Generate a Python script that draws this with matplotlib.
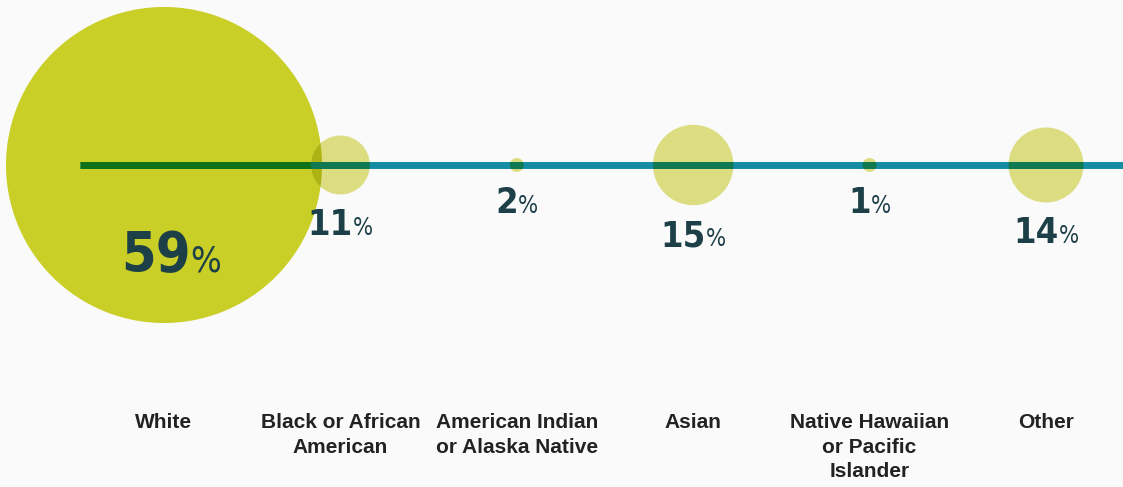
import matplotlib
matplotlib.use("Agg")
import matplotlib.pyplot as plt
from matplotlib.patches import Circle
from matplotlib.offsetbox import TextArea, HPacker, AnnotationBbox

categories = ["White", "Black or African\nAmerican", "American Indian\nor Alaska Native",
              "Asian", "Native Hawaiian\nor Pacific\nIslander", "Other"]
values = [59, 11, 2, 15, 1, 14]

BG = "#fafafa"
BIG = "#c9cf26"
SMALL = "#dcdc80"
LINE = "#148ca4"
TEXT = "#1c3f48"

W, H, DPI = 1123, 487, 100
PX = 176.4          # pixels per category step
X0, Y0 = 164, 165   # pixel position of first bubble centre

NUM_FAMILY = ["DejaVu Sans Condensed", "Liberation Sans Narrow", "DejaVu Sans"]


def px(n):
    return n / PX


def mult(c1, c2):
    a = matplotlib.colors.to_rgb(c1)
    b = matplotlib.colors.to_rgb(c2)
    return tuple(x * y for x, y in zip(a, b))


fig = plt.figure(figsize=(W / DPI, H / DPI), dpi=DPI, facecolor=BG)
ax = fig.add_axes([0, 0, 1, 1])
ax.set_facecolor(BG)
ax.set_xlim(px(-X0), px(W - X0))
ax.set_ylim(px(-(H - Y0)), px(Y0))
ax.set_aspect("equal")
ax.axis("off")

k = px(158) / max(values)
radii = [max(v * k, px(7)) for v in values]

# bubbles
circles = []
for i, (v, r) in enumerate(zip(values, radii)):
    col = BIG if i == 0 else SMALL
    c = Circle((i, 0), r, facecolor=col, edgecolor="none", zorder=2)
    ax.add_patch(c)
    circles.append(c)

# overlap of small bubbles with the big one (multiply look)
for i in range(1, len(values)):
    ov = Circle((0, 0), radii[0], facecolor=mult(BIG, SMALL), edgecolor="none", zorder=3)
    ax.add_patch(ov)
    ov.set_clip_path(circles[i])

# axis line, multiplied where it crosses bubbles
x_start, x_end = px(80 - X0), px(W - X0)
ax.plot([x_start, x_end], [0, 0], color=LINE, lw=5, solid_capstyle="butt", zorder=4)
for i, c in enumerate(circles):
    base = BIG if i == 0 else SMALL
    ln, = ax.plot([x_start, x_end], [0, 0], color=mult(LINE, base), lw=5,
                  solid_capstyle="butt", zorder=5)
    ln.set_clip_path(c)

# percentage labels
for i, (v, r) in enumerate(zip(values, radii)):
    big = i == 0
    ns = 40 if big else 26
    ps = 26 if big else 17
    num = TextArea(str(v), textprops=dict(size=ns, family=NUM_FAMILY, stretch="condensed",
                                          weight="bold", color=TEXT))
    pct = TextArea("%", textprops=dict(size=ps, family=NUM_FAMILY, stretch="condensed",
                                       color=TEXT))
    box = HPacker(children=[num, pct], align="baseline", pad=0, sep=0)
    y = -(min(r, px(60)) + px(31))
    ab = AnnotationBbox(box, (i + (px(7) if big else 0), y), frameon=False,
                        box_alignment=(0.5, 0.5), zorder=7)
    ax.add_artist(ab)

# category labels
for i, name in enumerate(categories):
    ax.text(i, px(-(413 - Y0)), name, ha="center", va="top", fontsize=15,
            fontweight="bold", family=["Liberation Sans", "DejaVu Sans"],
            color="#222222", linespacing=1.38, zorder=7)

fig.savefig("out.png", dpi=DPI, facecolor=BG)
